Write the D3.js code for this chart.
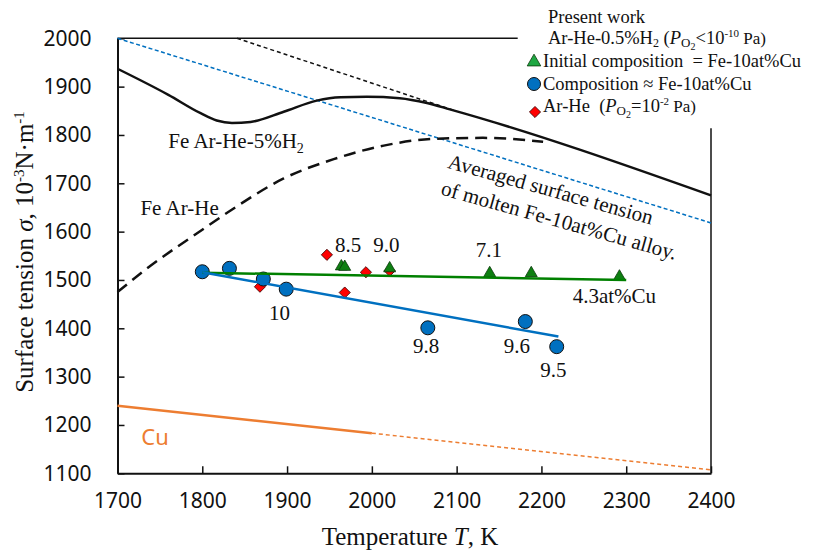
<!DOCTYPE html>
<html>
<head>
<meta charset="utf-8">
<script src="https://cdn.jsdelivr.net/npm/d3@7"></script>
<style>
  body { margin: 0; background: #fff; }
</style>
</head>
<body>
<svg id="chart" width="822" height="552"></svg>
<script>
const svg = d3.select("#chart");
const width = 822;
const height = 552;

// measured points
const compTemps = [1800, 1832, 1872, 1899, 2066, 2181, 2218];
const compValues = [1517, 1524, 1502, 1481, 1401, 1414, 1362];
const initTemps = [1964, 1968, 2021, 2139, 2188, 2292];
const initValues = [1528, 1527, 1524, 1514, 1514, 1507];
const arheTemps = [1947, 1993, 2021, 1868, 1968];
const arheValues = [1552, 1516, 1519, 1486, 1474];

// trend lines
const initFitTemps = [1800, 2300];
const initFitValues = [1515, 1500];
const compFitTemps = [1800, 2220];
const compFitValues = [1516, 1383];

// reference curves
const feH2Temps = [1700, 1760, 1798, 1817, 1835, 1857, 1896, 1935, 1963, 1994, 2033, 2065, 2092, 2400];
const feH2Values = [1937, 1883, 1845, 1830, 1825, 1827, 1848, 1871, 1878, 1879, 1876, 1866, 1853, 1675];
const feH2ExtTemps = [1841, 2100];
const feH2ExtValues = [2000, 1849];
const feArTemps = [1700, 1735, 1800, 1837, 1896, 1955, 2014, 2073, 2131, 2202];
const feArValues = [1475, 1524, 1604, 1648, 1710, 1750, 1778, 1792, 1794, 1786];
const avgTemps = [1700, 2400];
const avgValues = [2000, 1618];
const cuTemps = [1700, 2000];
const cuValues = [1240, 1183];
const cuExtTemps = [2000, 2400];
const cuExtValues = [1183, 1107];

// point labels
const labelTexts = ["8.5", "9.0", "10", "9.8", "7.1", "4.3at%Cu", "9.6", "9.5"];
const labelTemps = [1972, 2017, 1891, 2064, 2138, 2286, 2171, 2214];
const labelValues = [1558, 1558, 1417, 1349, 1547, 1452, 1349, 1299];

const xTicks = [1700, 1800, 1900, 2000, 2100, 2200, 2300, 2400];
const yTicks = [1100, 1200, 1300, 1400, 1500, 1600, 1700, 1800, 1900, 2000];

const serif = "'Liberation Serif', 'Times New Roman', serif";
const sans = "'Noto Sans', 'DejaVu Sans', sans-serif";
const nb = "\u00A0";

const x = d3.scaleLinear().domain([1700, 2400]).range([117.5, 711]);
const y = d3.scaleLinear().domain([1100, 2000]).range([473.3, 38.3]);

const zip = (ts, vs) => ts.map((t, i) => [t, vs[i]]);
const line = d3.line().x(d => x(d[0])).y(d => y(d[1]));
const curve = d3.line().x(d => x(d[0])).y(d => y(d[1])).curve(d3.curveMonotoneX);

// axes
const xAxis = svg.append("g")
  .attr("transform", `translate(0,${y(1100)})`)
  .call(d3.axisBottom(x).tickValues(xTicks).tickFormat(d3.format("d"))
    .tickSizeInner(-7).tickSizeOuter(0).tickPadding(20));
const yAxis = svg.append("g")
  .attr("transform", `translate(${x(1700)},0)`)
  .call(d3.axisLeft(y).tickValues(yTicks).tickFormat(d3.format("d"))
    .tickSizeInner(-7).tickSizeOuter(0).tickPadding(26));

[xAxis, yAxis].forEach(a => {
  a.select(".domain").attr("stroke", "#111").attr("stroke-width", 2);
  a.selectAll(".tick line").attr("stroke", "#111").attr("stroke-width", 1.5);
  a.selectAll(".tick text").attr("fill", "#111")
    .style("font-family", sans).style("font-size", "21px");
});

// partial frame (legend sits in the top-right corner)
svg.append("line")
  .attr("x1", x(1700)).attr("x2", x(2172))
  .attr("y1", y(2000)).attr("y2", y(2000))
  .attr("stroke", "#111").attr("stroke-width", 1.5);
svg.append("line")
  .attr("x1", x(2400)).attr("x2", x(2400))
  .attr("y1", y(1814)).attr("y2", y(1100))
  .attr("stroke", "#111").attr("stroke-width", 1.5);

const plot = svg.append("g");

// reference curves
plot.append("path").datum(zip(avgTemps, avgValues))
  .attr("d", line).attr("fill", "none")
  .attr("stroke", "#0070C0").attr("stroke-width", 1.5).attr("stroke-dasharray", "4,2.5");

plot.append("path").datum(zip(feH2ExtTemps, feH2ExtValues))
  .attr("d", line).attr("fill", "none")
  .attr("stroke", "#111").attr("stroke-width", 1.5).attr("stroke-dasharray", "4,3");

plot.append("path").datum(zip(feH2Temps, feH2Values))
  .attr("d", curve)
  .attr("fill", "none").attr("stroke", "#111").attr("stroke-width", 2.5);

plot.append("path").datum(zip(feArTemps, feArValues))
  .attr("d", curve)
  .attr("fill", "none").attr("stroke", "#111").attr("stroke-width", 2.5)
  .attr("stroke-dasharray", "12,7");

plot.append("path").datum(zip(cuTemps, cuValues))
  .attr("d", line).attr("fill", "none")
  .attr("stroke", "#ED7D31").attr("stroke-width", 2.5);
plot.append("path").datum(zip(cuExtTemps, cuExtValues))
  .attr("d", line).attr("fill", "none")
  .attr("stroke", "#ED7D31").attr("stroke-width", 1.5).attr("stroke-dasharray", "4,3");

// markers
const diamond = d3.symbol(d3.symbolSquare, 62)();
const triangle = d3.symbol(d3.symbolTriangle, 62)();

plot.selectAll(".arhe")
  .data(zip(arheTemps, arheValues))
  .join("path")
  .attr("class", "arhe")
  .attr("d", diamond)
  .attr("transform", d => `translate(${x(d[0])},${y(d[1])}) rotate(45)`)
  .attr("fill", "#FF0000").attr("stroke", "#3a0000").attr("stroke-width", 0.8);

plot.selectAll(".comp")
  .data(zip(compTemps, compValues))
  .join("circle")
  .attr("class", "comp")
  .attr("cx", d => x(d[0])).attr("cy", d => y(d[1])).attr("r", 7)
  .attr("fill", "#0070C0").attr("stroke", "#111").attr("stroke-width", 1);

plot.selectAll(".init")
  .data(zip(initTemps, initValues))
  .join("path")
  .attr("class", "init")
  .attr("d", triangle)
  .attr("transform", d => `translate(${x(d[0])},${y(d[1])})`)
  .attr("fill", "#0e7f12").attr("stroke", "#0a3a0a").attr("stroke-width", 0.8);

// trend lines
plot.append("path").datum(zip(initFitTemps, initFitValues))
  .attr("d", line).attr("fill", "none")
  .attr("stroke", "#008000").attr("stroke-width", 2.5);
plot.append("path").datum(zip(compFitTemps, compFitValues))
  .attr("d", line).attr("fill", "none")
  .attr("stroke", "#0070C0").attr("stroke-width", 2.5);

// point labels
plot.selectAll(".plabel")
  .data(labelTexts)
  .join("text")
  .attr("class", "plabel")
  .attr("x", (d, i) => x(labelTemps[i]))
  .attr("y", (d, i) => y(labelValues[i]))
  .attr("text-anchor", "middle")
  .style("font-family", serif).style("font-size", "21px").attr("fill", "#111")
  .text(d => d);

// curve labels
const h2Label = plot.append("text")
  .attr("x", x(1760)).attr("y", y(1773))
  .style("font-family", serif).style("font-size", "21px").attr("fill", "#111");
h2Label.append("tspan").text("Fe Ar-He-5%H");
h2Label.append("tspan").attr("dy", 5).style("font-size", "14px").text("2");

plot.append("text")
  .attr("x", x(1727)).attr("y", y(1634))
  .style("font-family", serif).style("font-size", "21px").attr("fill", "#111")
  .text("Fe Ar-He");

plot.append("text")
  .attr("x", x(1728)).attr("y", y(1158))
  .style("font-family", sans).style("font-size", "22px").attr("fill", "#ED7D31")
  .text("Cu");

const avgLines = ["Averaged surface tension", "of molten Fe-10at%Cu alloy."];
const avgLabelTemps = [2211, 2221];
const avgLabelValues = [1688, 1624];
plot.selectAll(".avglabel")
  .data(avgLines)
  .join("text")
  .attr("class", "avglabel")
  .attr("transform", (d, i) => `translate(${x(avgLabelTemps[i])},${y(avgLabelValues[i])}) rotate(15.6)`)
  .attr("text-anchor", "middle").attr("dy", "0.35em")
  .style("font-family", serif).style("font-size", "21px").attr("fill", "#111")
  .text(d => d);

// axis titles
const yTitle = svg.append("text")
  .attr("transform", "translate(33,252) rotate(-90)")
  .attr("text-anchor", "middle")
  .style("font-family", serif).style("font-size", "25px").attr("fill", "#111");
yTitle.append("tspan").text("Surface tension ");
yTitle.append("tspan").style("font-style", "italic").text("σ");
yTitle.append("tspan").text(", 10");
yTitle.append("tspan").attr("dy", -9).style("font-size", "15px").text("-3");
yTitle.append("tspan").attr("dy", 9).text("N·m");
yTitle.append("tspan").attr("dy", -9).style("font-size", "15px").text("-1");

const xTitle = svg.append("text")
  .attr("x", 410).attr("y", 545)
  .attr("text-anchor", "middle")
  .style("font-family", serif).style("font-size", "25px").attr("fill", "#111");
xTitle.append("tspan").text("Temperature ");
xTitle.append("tspan").style("font-style", "italic").text("T");
xTitle.append("tspan").text(", K");

// legend
const legend = svg.append("g")
  .style("font-family", serif).style("font-size", "18.5px").attr("fill", "#111");

legend.append("text").attr("x", 548).attr("y", 23).text("Present work");

const l2 = legend.append("text").attr("x", 548).attr("y", 44);
l2.append("tspan").text("Ar-He-0.5%H");
l2.append("tspan").attr("dy", 3).style("font-size", "12px").text("2");
l2.append("tspan").attr("dy", -3).text(" (");
l2.append("tspan").style("font-style", "italic").text("P");
l2.append("tspan").attr("dy", 3).style("font-size", "13px").text("O");
l2.append("tspan").attr("dy", 3).style("font-size", "10px").text("2");
l2.append("tspan").attr("dy", -6).text("<10");
l2.append("tspan").attr("dy", -7).style("font-size", "11px").text("-10");
l2.append("tspan").attr("dy", 7).style("font-size", "17px").text(nb + "Pa)");

legend.append("path")
  .attr("d", d3.symbol(d3.symbolTriangle, 80)())
  .attr("transform", "translate(534,62)")
  .attr("fill", "#1fa843").attr("stroke", "#0a3a0a").attr("stroke-width", 0.8);
legend.append("text").attr("x", 543).attr("y", 67)
  .text("Initial composition" + nb + nb + "= Fe-10at%Cu");

legend.append("circle")
  .attr("cx", 534).attr("cy", 84).attr("r", 6.5)
  .attr("fill", "#0070C0").attr("stroke", "#111").attr("stroke-width", 1);
legend.append("text").attr("x", 543).attr("y", 90).text("Composition ≈ Fe-10at%Cu");

legend.append("path")
  .attr("d", diamond)
  .attr("transform", "translate(535,112) rotate(45)")
  .attr("fill", "#FF0000").attr("stroke", "#3a0000").attr("stroke-width", 0.8);
const l5 = legend.append("text").attr("x", 543).attr("y", 112);
l5.append("tspan").text("Ar-He" + nb + nb + "(");
l5.append("tspan").style("font-style", "italic").text("P");
l5.append("tspan").attr("dy", 3).style("font-size", "13px").text("O");
l5.append("tspan").attr("dy", 3).style("font-size", "10px").text("2");
l5.append("tspan").attr("dy", -6).text("=10");
l5.append("tspan").attr("dy", -7).style("font-size", "11px").text("-2");
l5.append("tspan").attr("dy", 7).style("font-size", "17px").text(nb + "Pa)");
</script>
</body>
</html>
